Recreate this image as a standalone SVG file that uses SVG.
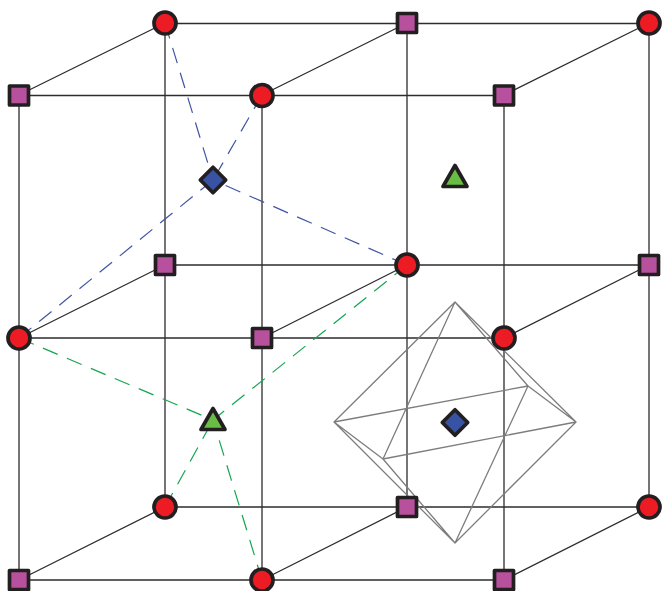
<svg xmlns="http://www.w3.org/2000/svg" width="663" height="591" viewBox="0 0 663 591">
<style>
.e{stroke:#2e2c2d;stroke-width:1.3;fill:none}
.o{stroke:#7d7d7d;stroke-width:1.3;fill:none;stroke-linejoin:round}
.db{stroke:#3f55a4;stroke-width:1.2;fill:none;stroke-dasharray:16 10}
.dg{stroke:#12a650;stroke-width:1.2;fill:none;stroke-dasharray:16 10}
.n{stroke:#231f20;stroke-width:3.7;stroke-linejoin:round}
.c{fill:#ed1c24}.s{fill:#b7509d}.t{fill:#69bd45}.d{fill:#3953a4}
</style>
<defs>
<circle id="cir" r="11" class="n c"/>
<rect id="sq" x="-9.5" y="-9.5" width="19" height="19" class="n s"/>
<path id="di" d="M0-12.7L12.7 0 0 12.7-12.7 0Z" class="n d"/>
<path id="tr" d="M0-11.5L12 9.5H-12Z" class="n t"/>
</defs>
<g id="connectors">
<path class="e" d="M165 23.5H649M19 95.5H504M165 265H649M19 338H504M165 507H649M19 580H504"/>
<path class="e" d="M19 95V580M165 23V507M262 95V580M407 23V507M504 95V580M649 23V507"/>
<path class="e" d="M19 95L165 23M262 95L407 23M504 95L649 23M19 338L165 265M262 338L407 265M504 338L649 265M19 580L165 507M262 580L407 507M504 580L649 507"/>
<path class="db" d="M165 23L213 180M262 95L213 180M407 265L213 180M19 338L213 180"/>
<path class="dg" d="M19 338L213 420M407 265L213 420M165 507L213 420M262 580L213 420"/>
<path class="o" d="M455 302L334 422 455 543 576 422ZM455 302L383 459 455 543 528 386ZM334 422L528 386 576 422 383 459Z"/>
</g>
<g id="n1"><use href="#cir" x="165" y="23"/></g>
<g id="n2"><use href="#sq" x="407" y="23"/></g>
<g id="n3"><use href="#cir" x="649" y="23"/></g>
<g id="n4"><use href="#sq" x="19" y="95.5"/></g>
<g id="n5"><use href="#cir" x="262" y="95.5"/></g>
<g id="n6"><use href="#sq" x="504" y="95.5"/></g>
<g id="n7"><use href="#sq" x="165" y="265"/></g>
<g id="n8"><use href="#cir" x="407" y="265"/></g>
<g id="n9"><use href="#sq" x="649" y="265"/></g>
<g id="n10"><use href="#cir" x="19" y="338"/></g>
<g id="n11"><use href="#sq" x="262" y="338"/></g>
<g id="n12"><use href="#cir" x="504" y="338"/></g>
<g id="n13"><use href="#cir" x="165" y="507"/></g>
<g id="n14"><use href="#sq" x="407" y="507"/></g>
<g id="n15"><use href="#cir" x="649" y="507"/></g>
<g id="n16"><use href="#sq" x="19" y="580"/></g>
<g id="n17"><use href="#cir" x="262" y="580"/></g>
<g id="n18"><use href="#sq" x="504" y="580"/></g>
<g id="n19"><use href="#di" x="213" y="180"/></g>
<g id="n20"><use href="#tr" x="455" y="177"/></g>
<g id="n21"><use href="#tr" x="213" y="420"/></g>
<g id="n22"><use href="#di" x="455" y="422.5"/></g>
</svg>
